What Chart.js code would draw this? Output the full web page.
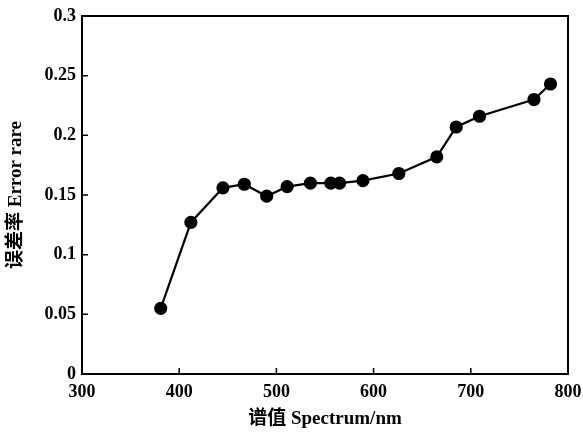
<!DOCTYPE html>
<html>
<head>
<meta charset="utf-8">
<script src="https://cdn.jsdelivr.net/npm/chart.js@4"></script>
<style>
  body { margin: 0; background: #fff; }
  #wrap { width: 583px; height: 432px; }
</style>
</head>
<body>
<div id="wrap"><canvas id="errChart"></canvas></div>
<script>
const wavelengths = [381, 412, 445, 467, 490, 511, 535, 556, 565, 589, 626, 665, 685, 709, 765, 782];
const errorRates = [0.055, 0.127, 0.156, 0.159, 0.149, 0.157, 0.160, 0.160, 0.160, 0.162, 0.168, 0.182, 0.207, 0.216, 0.230, 0.243];
const yTickLabels = ['0', '0.05', '0.1', '0.15', '0.2', '0.25', '0.3'];

const serif = "'Liberation Serif', 'Noto Sans CJK SC', serif";

// frame + inward ticks
const framePlugin = {
    id: 'frame',
    afterDraw: function(chart) {
        const ctx = chart.ctx;
        const a = chart.chartArea;
        const xs = chart.scales.x;
        const ys = chart.scales.y;
        ctx.save();
        ctx.strokeStyle = '#000';
        ctx.lineWidth = 2;
        ctx.strokeRect(a.left, a.top, a.right - a.left, a.bottom - a.top);
        ctx.lineWidth = 1.5;
        ctx.beginPath();
        xs.ticks.forEach(function(t) {
            const px = xs.getPixelForValue(t.value);
            ctx.moveTo(px, a.bottom);
            ctx.lineTo(px, a.bottom - 6);
        });
        ys.ticks.forEach(function(t) {
            const py = ys.getPixelForValue(t.value);
            ctx.moveTo(a.left, py);
            ctx.lineTo(a.left + 6, py);
        });
        ctx.stroke();
        ctx.restore();
    }
};

const ctx = document.getElementById('errChart').getContext('2d');
const myChart = new Chart(ctx, {
    type: 'scatter',
    data: {
        datasets: [{
            data: wavelengths.map(function(w, i) { return { x: w, y: errorRates[i] }; }),
            showLine: true,
            borderColor: '#000',
            backgroundColor: '#000',
            borderWidth: 2.2,
            pointRadius: 5.5,
            pointHoverRadius: 5.5
        }]
    },
    options: {
        responsive: true,
        maintainAspectRatio: false,
        animation: false,
        layout: { padding: { top: 16, right: 15, left: 0, bottom: 0 } },
        plugins: {
            legend: { display: false },
            tooltip: { enabled: false }
        },
        scales: {
            x: {
                type: 'linear',
                min: 300,
                max: 800,
                afterFit: function(scale) {
                    scale.height = 58;
                    scale.paddingLeft = 0;
                    scale.paddingRight = 0;
                },
                grid: { display: false, drawTicks: false },
                border: { display: false },
                ticks: {
                    stepSize: 100,
                    color: '#000',
                    padding: 8,
                    font: { family: serif, size: 18, weight: 'bold' }
                },
                title: {
                    display: true,
                    text: '谱值 Spectrum/nm',
                    color: '#000',
                    padding: { top: 2, bottom: 2 },
                    font: { family: serif, size: 19, weight: 'bold' }
                }
            },
            y: {
                min: 0,
                max: 0.3,
                afterFit: function(scale) {
                    scale.width = 82;
                    scale.paddingTop = 0;
                    scale.paddingBottom = 0;
                },
                grid: { display: false, drawTicks: false },
                border: { display: false },
                ticks: {
                    stepSize: 0.05,
                    color: '#000',
                    padding: 6,
                    font: { family: serif, size: 18, weight: 'bold' },
                    callback: function(v, i) { return yTickLabels[i]; }
                },
                title: {
                    display: true,
                    text: '误差率 Error rare',
                    color: '#000',
                    padding: { top: 5, bottom: 0 },
                    font: { family: serif, size: 19, weight: 'bold' }
                }
            }
        }
    },
    plugins: [framePlugin]
});
</script>
</body>
</html>
